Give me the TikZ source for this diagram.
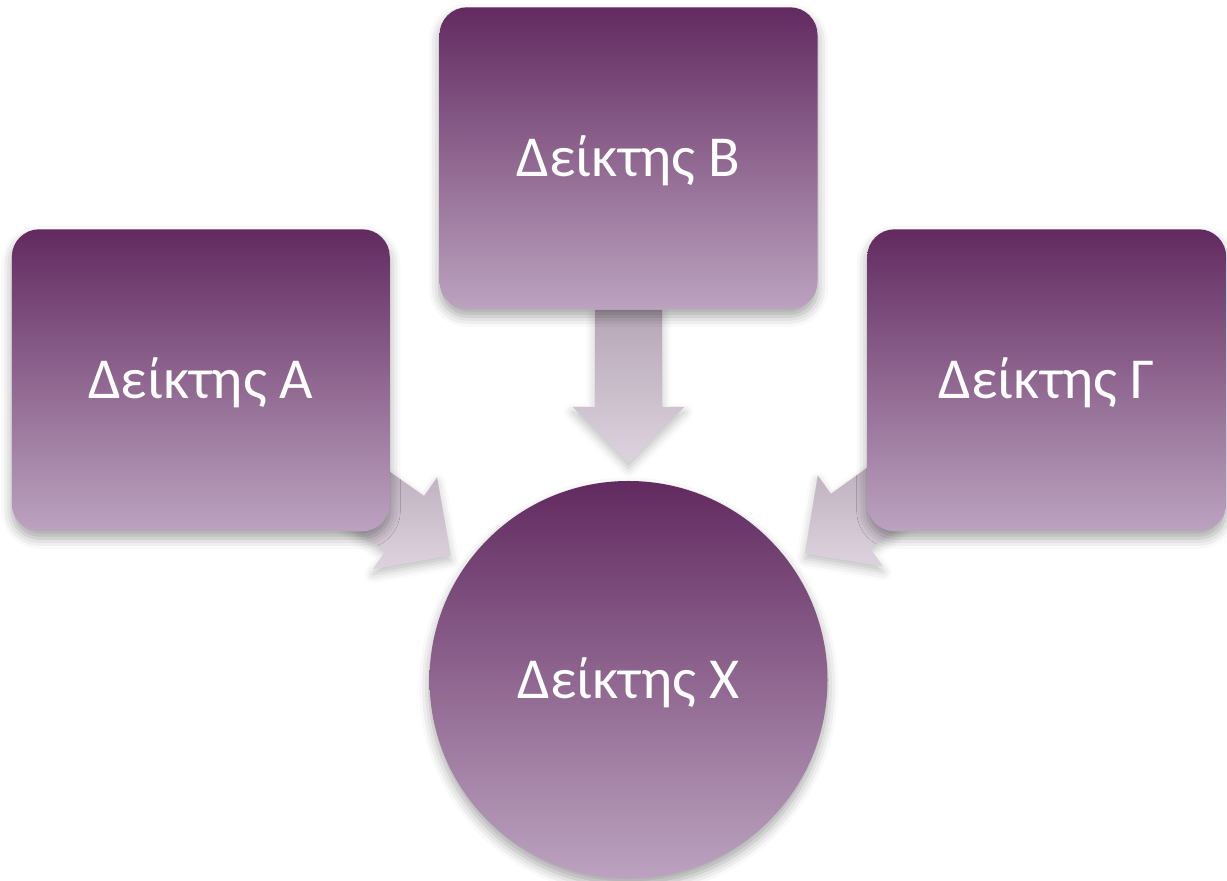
\documentclass[tikz,border=0pt]{standalone}
\usepackage{fontspec}
\setmainfont{Carlito}
\usepackage{xcolor}
\usepackage{tikz}
\usetikzlibrary{positioning, calc, shadows.blur, backgrounds}
\definecolor{plumtop}{HTML}{622A60}
\definecolor{plumbottom}{HTML}{BCA3C0}
\definecolor{flowtop}{HTML}{B6A6B6}
\definecolor{flowbottom}{HTML}{DDD3DE}
\tikzstyle{softshadow} = [blur shadow={shadow xshift=0pt, shadow yshift=-4pt, shadow blur radius=6pt, shadow opacity=35}]
\tikzstyle{box} = [rectangle, rounded corners=0.55cm, minimum width=7.56cm, minimum height=6.04cm, top color=plumtop, bottom color=plumbottom, text=white, font=\fontsize{33}{40}\selectfont, text height=21pt, text depth=0pt, softshadow]
\tikzstyle{hub} = [circle, minimum size=7.96cm, top color=plumtop, bottom color=plumbottom, text=white, font=\fontsize{33}{40}\selectfont, text height=21pt, text depth=0pt, softshadow]
\tikzstyle{flow} = [top color=flowtop, bottom color=flowbottom, blur shadow={shadow xshift=0pt, shadow yshift=-3pt, shadow blur radius=5pt, shadow opacity=25}]
% block arrow from node #1 towards the hub X
\newcommand{\blockarrow}[1]{
	\path[flow] ($(X.center)!7.4cm!(#1.center)!0.67cm!90:(#1.center)$) -- ($(X.center)!5.46cm!(#1.center)!0.67cm!90:(#1.center)$) -- ($(X.center)!5.46cm!(#1.center)!1.12cm!90:(#1.center)$) -- ($(X.center)!4.34cm!(#1.center)$) -- ($(X.center)!5.46cm!(#1.center)!1.12cm!-90:(#1.center)$) -- ($(X.center)!5.46cm!(#1.center)!0.67cm!-90:(#1.center)$) -- ($(X.center)!7.4cm!(#1.center)!0.67cm!-90:(#1.center)$) -- cycle;
}

\begin{document}
\begin{tikzpicture}
		\useasboundingbox (0,0) rectangle (24.54,17.62);
		\node (X)[hub] at (12.57,4.02){Δείκτης X};
		\node (B)[box, above = 3.42cm of X]{Δείκτης B};
		\node (A)[box, left = 0.98cm of B, yshift=-4.44cm]{Δείκτης A};
		\node (C)[box, minimum width=7.18cm, right = 0.98cm of B, yshift=-4.44cm]{Δείκτης Γ};
		\begin{pgfonlayer}{background}
			\blockarrow{A}
			\blockarrow{B}
			\blockarrow{C}
		\end{pgfonlayer}
	\end{tikzpicture}
\end{document}
